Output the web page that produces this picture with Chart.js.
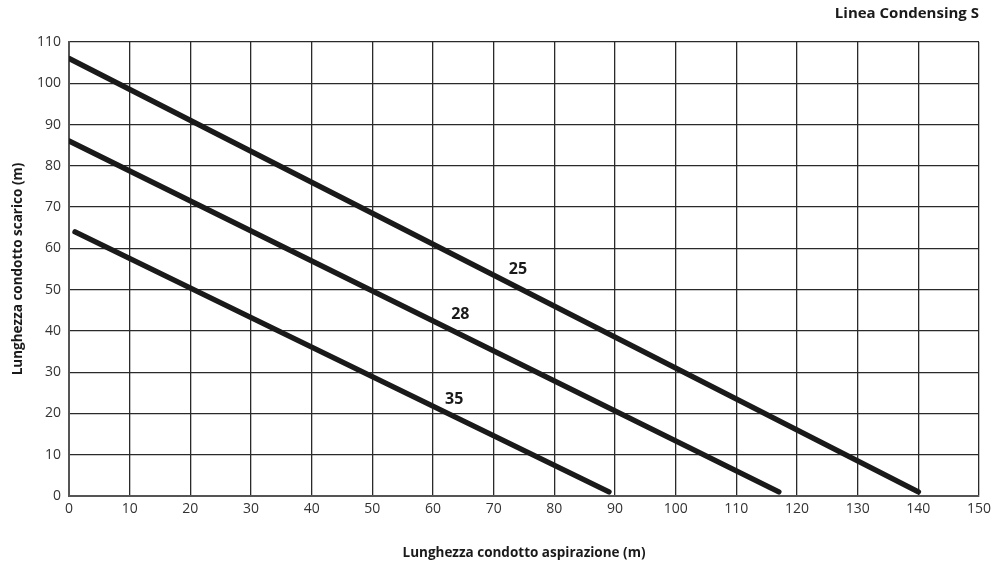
<!DOCTYPE html>
<html>
<head>
<meta charset="utf-8">
<script src="https://cdn.jsdelivr.net/npm/chart.js@4"></script>
<style>
  html, body { margin: 0; padding: 0; background: #fff; }
</style>
</head>
<body>
<canvas id="myChart" width="997" height="565"></canvas>
<script>
// line end points (x = aspirazione m, y = scarico m)
const seriesNames = ['25', '28', '35']
const seriesX = [[0, 140], [0, 117], [1, 89]]
const seriesY = [[106, 1], [86, 1], [64, 1]]
// where each series number sits
const labelX = [74, 64.5, 63.5]
const labelY = [55, 44, 23.5]

const xTicks = [0, 10, 20, 30, 40, 50, 60, 70, 80, 90, 100, 110, 120, 130, 140, 150]
const yTicks = [0, 10, 20, 30, 40, 50, 60, 70, 80, 90, 100, 110]

const fontFamily = '"Open Sans", "Noto Sans", sans-serif'
const ink = '#1a1a1a'

const datasets = seriesNames.map((name, i) => ({
  label: name,
  data: seriesX[i].map((x, j) => ({ x: x, y: seriesY[i][j] })),
  showLine: true,
  borderColor: ink,
  borderWidth: 5.5,
  borderCapStyle: 'round',
  pointRadius: 0,
  pointHoverRadius: 0,
  fill: false
}))

// writes 25 / 28 / 35 next to their lines
const seriesLabels = {
  id: 'seriesLabels',
  afterDatasetsDraw (chart) {
    const ctx = chart.ctx
    const xs = chart.scales.x
    const ys = chart.scales.y
    ctx.save()
    ctx.font = 'bold 16px ' + fontFamily
    ctx.fillStyle = ink
    ctx.textAlign = 'center'
    ctx.textBaseline = 'middle'
    seriesNames.forEach((name, i) => {
      ctx.fillText(name, xs.getPixelForValue(labelX[i]), ys.getPixelForValue(labelY[i]))
    })
    ctx.restore()
  }
}

new Chart(document.getElementById('myChart').getContext('2d'), {
  type: 'scatter',
  data: { datasets: datasets },
  options: {
    responsive: false,
    animation: false,
    events: [],
    layout: { padding: { left: 6, right: 18, top: 0, bottom: 0 } },
    plugins: {
      legend: { display: false },
      tooltip: { enabled: false },
      title: {
        display: true,
        text: 'Linea Condensing S',
        align: 'end',
        color: ink,
        font: { family: fontFamily, size: 15, weight: 'bold' },
        padding: { top: 5, bottom: 19 }
      }
    },
    scales: {
      x: {
        type: 'linear',
        min: 0,
        max: 150,
        afterBuildTicks: (scale) => { scale.ticks = xTicks.map(v => ({ value: v })) },
        afterFit: (scale) => { scale.height = 69 },
        ticks: {
          color: '#333',
          font: { family: fontFamily, size: 14 },
          padding: 5,
          maxRotation: 0,
          autoSkip: false
        },
        grid: { color: '#2a2a2a', lineWidth: 1.3, drawTicks: false },
        border: { color: '#555', width: 2 },
        title: {
          display: true,
          text: 'Lunghezza condotto aspirazione (m)',
          color: ink,
          font: { family: fontFamily, size: 13.5, weight: 'bold' },
          padding: { top: 10 }
        }
      },
      y: {
        type: 'linear',
        min: 0,
        max: 110,
        afterBuildTicks: (scale) => { scale.ticks = yTicks.map(v => ({ value: v })) },
        afterFit: (scale) => { scale.width = 63 },
        ticks: {
          color: '#333',
          font: { family: fontFamily, size: 14 },
          padding: 8,
          autoSkip: false
        },
        grid: { color: '#2a2a2a', lineWidth: 1.3, drawTicks: false },
        border: { color: '#555', width: 2 },
        title: {
          display: true,
          text: 'Lunghezza condotto scarico (m)',
          color: ink,
          font: { family: fontFamily, size: 13.5, weight: 'bold' },
          padding: { bottom: 4 }
        }
      }
    }
  },
  plugins: [seriesLabels]
})
</script>
</body>
</html>
